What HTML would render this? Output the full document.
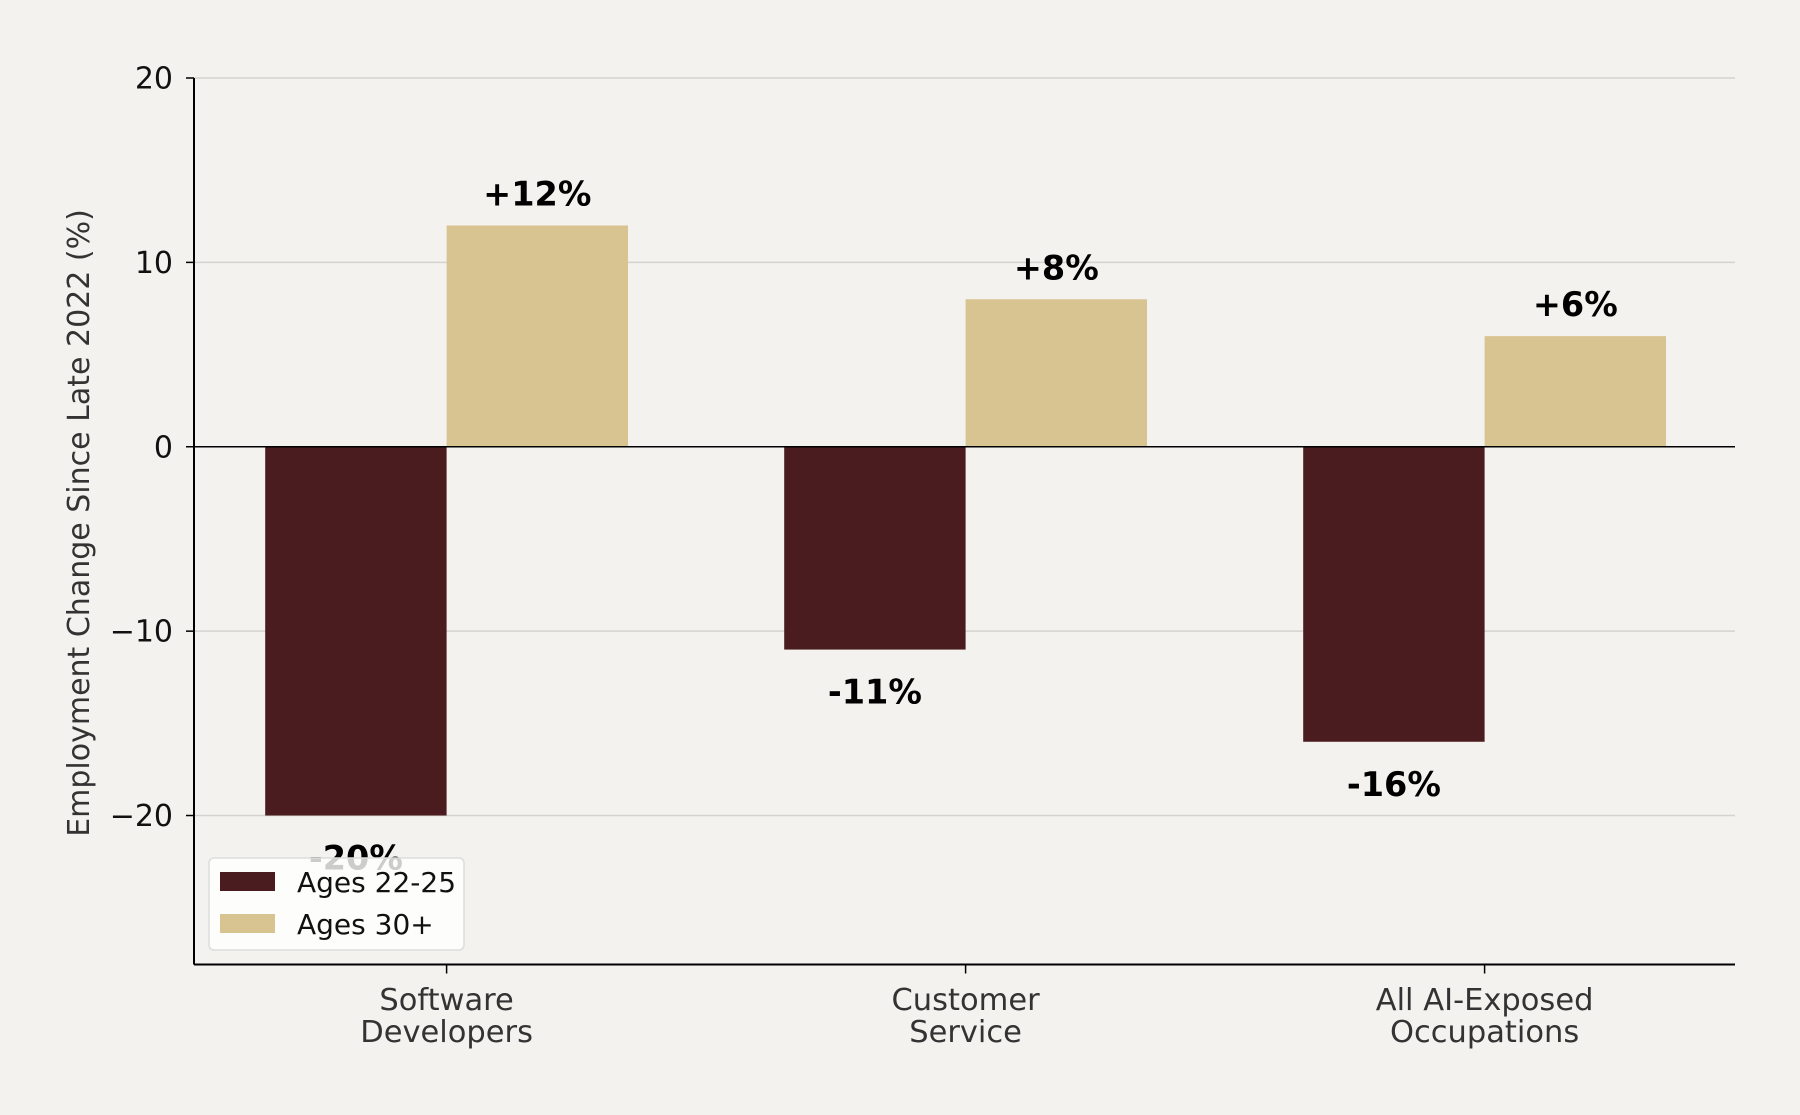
<!DOCTYPE html>
<html><head><meta charset="utf-8"><style>
html,body{margin:0;padding:0;background:#f3f2ee;}
svg{display:block;font-family:"DejaVu Sans","Liberation Sans",sans-serif;}
</style></head><body>
<svg id="chart" width="1800" height="1115" viewBox="0 0 1800 1115">
<rect width="1800" height="1115" fill="#f3f2ee"/>
<g id="grid"></g><g id="bars"></g><g id="axes"></g><g id="labels"></g><g id="legend"></g>
</svg>
<script>
const categories = [["Software","Developers"],["Customer","Service"],["All AI-Exposed","Occupations"]];
const youngValues = [-20, -11, -16];
const olderValues = [12, 8, 6];
const yTicks = [20, 10, 0, -10, -20];
const yTickLabels = ["20","10","0","\u221210","\u221220"];
const seriesNames = ["Ages 22-25","Ages 30+"];

const NS="http://www.w3.org/2000/svg";
const plotL=194, plotR=1735, yMin=-28.08, yMax=20, plotTop=78, plotBottom=964.5;
const yScale = v => plotTop + (yMax - v) / (yMax - yMin) * (plotBottom - plotTop);
const step = 519;
const xc = i => 446.6 + i*step;
const bw = 181.4;
const colors = ["#4a1c1f","#d8c490"];
function mk(tag, attrs, parent, text){const e=document.createElementNS(NS,tag);for(const k in attrs)e.setAttribute(k,attrs[k]);if(text!==undefined)e.textContent=text;parent.appendChild(e);return e;}
const grid=document.getElementById('grid'),bars=document.getElementById('bars'),axes=document.getElementById('axes'),labels=document.getElementById('labels'),legend=document.getElementById('legend');

yTicks.forEach((t,i)=>{
  if(t!==0){const g=mk('line',{x1:plotL,x2:plotR,y1:yScale(t),y2:yScale(t),stroke:'#d4d3cf','stroke-width':1.5},grid);
  
  }
  const tk=mk('line',{x1:plotL-8,x2:plotL,y1:yScale(t),y2:yScale(t),stroke:'#000','stroke-width':1.5},axes);
  
  
  const tl=mk('text',{x:plotL-21,y:yScale(t)+10.5,'text-anchor':'end','font-size':30,fill:'#111'},axes,yTickLabels[i]);
  
  
});

categories.forEach((c,i)=>{
  const vals=[youngValues[i],olderValues[i]];
  vals.forEach((v,s)=>{
    const x0 = s===0 ? xc(i)-bw : xc(i);
    const r=mk('rect',{x:x0,y:Math.min(yScale(v),yScale(0)),width:bw,height:Math.abs(yScale(v)-yScale(0)),fill:colors[s]},bars);
    
    
    const txt=(v>0?'+':'')+v+'%';
    const ty = v>=0 ? yScale(v)-20 : yScale(v)+54;
    const t=mk('text',{x:x0+bw/2,y:ty,'text-anchor':'middle','font-size':33.5,'font-weight':'bold',fill:'#000'},labels,txt);
    
    
  });
  const tk=mk('line',{x1:xc(i),x2:xc(i),y1:plotBottom,y2:plotBottom+9,stroke:'#000','stroke-width':1.5},axes);
  
  
  c.forEach((line,j)=>{
    const t=mk('text',{x:xc(i),y:1010+j*32,'text-anchor':'middle','font-size':30.5,fill:'#333'},axes,line);
    
    
  });
});

const zl=mk('line',{x1:plotL,x2:plotR,y1:yScale(0),y2:yScale(0),stroke:'#000','stroke-width':1.5},axes);


const ya=mk('line',{x1:plotL,x2:plotL,y1:plotTop,y2:plotBottom,stroke:'#000','stroke-width':2},axes);


const xa=mk('line',{x1:plotL,x2:plotR,y1:plotBottom,y2:plotBottom,stroke:'#000','stroke-width':2},axes);


const yt=mk('text',{x:0,y:0,transform:'translate(89,523) rotate(-90)','text-anchor':'middle','font-size':30,fill:'#333'},axes,'Employment Change Since Late 2022 (%)');



const lb=mk('rect',{x:209,y:858,width:255,height:92,rx:5,fill:'#ffffff','fill-opacity':0.8,stroke:'#dddddd','stroke-width':1.5},legend);


seriesNames.forEach((n,s)=>{
  const sw=mk('rect',{x:220,y:872+s*42,width:55,height:19,fill:colors[s]},legend);
  
  
  const t=mk('text',{x:297,y:892+s*42,'font-size':28,fill:'#111'},legend,n);
  
  
});
</script>
</body></html>
